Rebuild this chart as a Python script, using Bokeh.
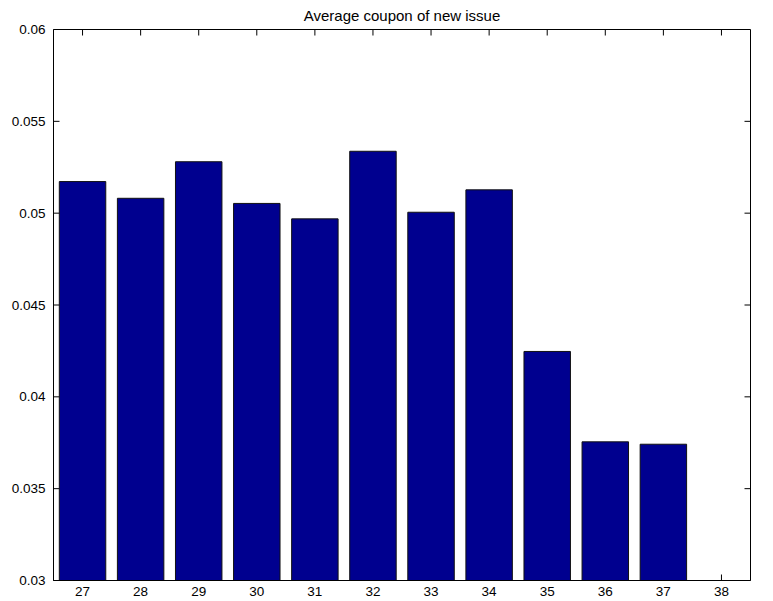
import math
from bokeh.plotting import figure
from bokeh.models import Range1d, FixedTicker, ColumnDataSource
from bokeh.embed import file_html
from bokeh.resources import INLINE

categories = [27, 28, 29, 30, 31, 32, 33, 34, 35, 36, 37, 38]
coupon = [0.05172, 0.05081, 0.0528, 0.05053, 0.04969, 0.05337, 0.05005, 0.05127,
          0.04247, 0.03755, 0.03742, float("nan")]
y_ticks = [0.03, 0.035, 0.04, 0.045, 0.05, 0.055, 0.06]
y_tick_labels = ["0.03", "0.035", "0.04", "0.045", "0.05", "0.055", "0.06"]
x_lim = (26.5, 38.5)
y_lim = (0.03, 0.06)
title_text = "Average coupon of new issue"

FONT = "Liberation Sans"
TICK = 6

p = figure(width=765, height=600, output_backend="svg", toolbar_location=None,
           x_range=Range1d(*x_lim), y_range=Range1d(*y_lim),
           min_border_left=53, min_border_right=15, min_border_top=29, min_border_bottom=20)
p.background_fill_color = "white"
p.border_fill_color = "white"
p.outline_line_color = "black"
p.outline_line_width = 1
p.xgrid.visible = False
p.ygrid.visible = False

# inward tick marks on all four sides (MATLAB box style)
p.ray(x=categories, y=[y_lim[0]] * len(categories), length=TICK, length_units="screen",
      angle=math.pi / 2, line_color="black", line_width=1)
p.ray(x=categories, y=[y_lim[1]] * len(categories), length=TICK, length_units="screen",
      angle=-math.pi / 2, line_color="black", line_width=1)
p.ray(x=[x_lim[0]] * len(y_ticks), y=y_ticks, length=TICK, length_units="screen",
      angle=0, line_color="black", line_width=1)
p.ray(x=[x_lim[1]] * len(y_ticks), y=y_ticks, length=TICK, length_units="screen",
      angle=math.pi, line_color="black", line_width=1)

src = ColumnDataSource(dict(x=categories, top=coupon))
p.vbar(x="x", top="top", bottom=y_lim[0], width=0.8, source=src,
       fill_color="#00008F", line_color="#111111", line_width=1)

p.title.text = title_text
p.title.align = "center"
p.title.vertical_align = "middle"
p.title.text_font = FONT
p.title.text_font_size = "15px"
p.title.text_font_style = "normal"
p.title.text_color = "black"
p.title.offset = 0
p.title.standoff = 10

for ax in (p.xaxis[0], p.yaxis[0]):
    ax.axis_line_color = "black"
    ax.major_tick_line_color = None
    ax.major_tick_in = 0
    ax.major_tick_out = 0
    ax.minor_tick_line_color = None
    ax.major_label_text_font = FONT
    ax.major_label_text_font_size = "13.5px"
    ax.major_label_text_color = "black"
    ax.major_label_standoff = 5

p.xaxis[0].ticker = FixedTicker(ticks=categories)
p.xaxis[0].major_label_standoff = 6
p.yaxis[0].ticker = FixedTicker(ticks=y_ticks)
p.yaxis[0].major_label_overrides = {t: l for t, l in zip(y_ticks, y_tick_labels)}
p.yaxis[0].major_label_standoff = 8

open("out.html", "w").write(file_html(p, INLINE))
